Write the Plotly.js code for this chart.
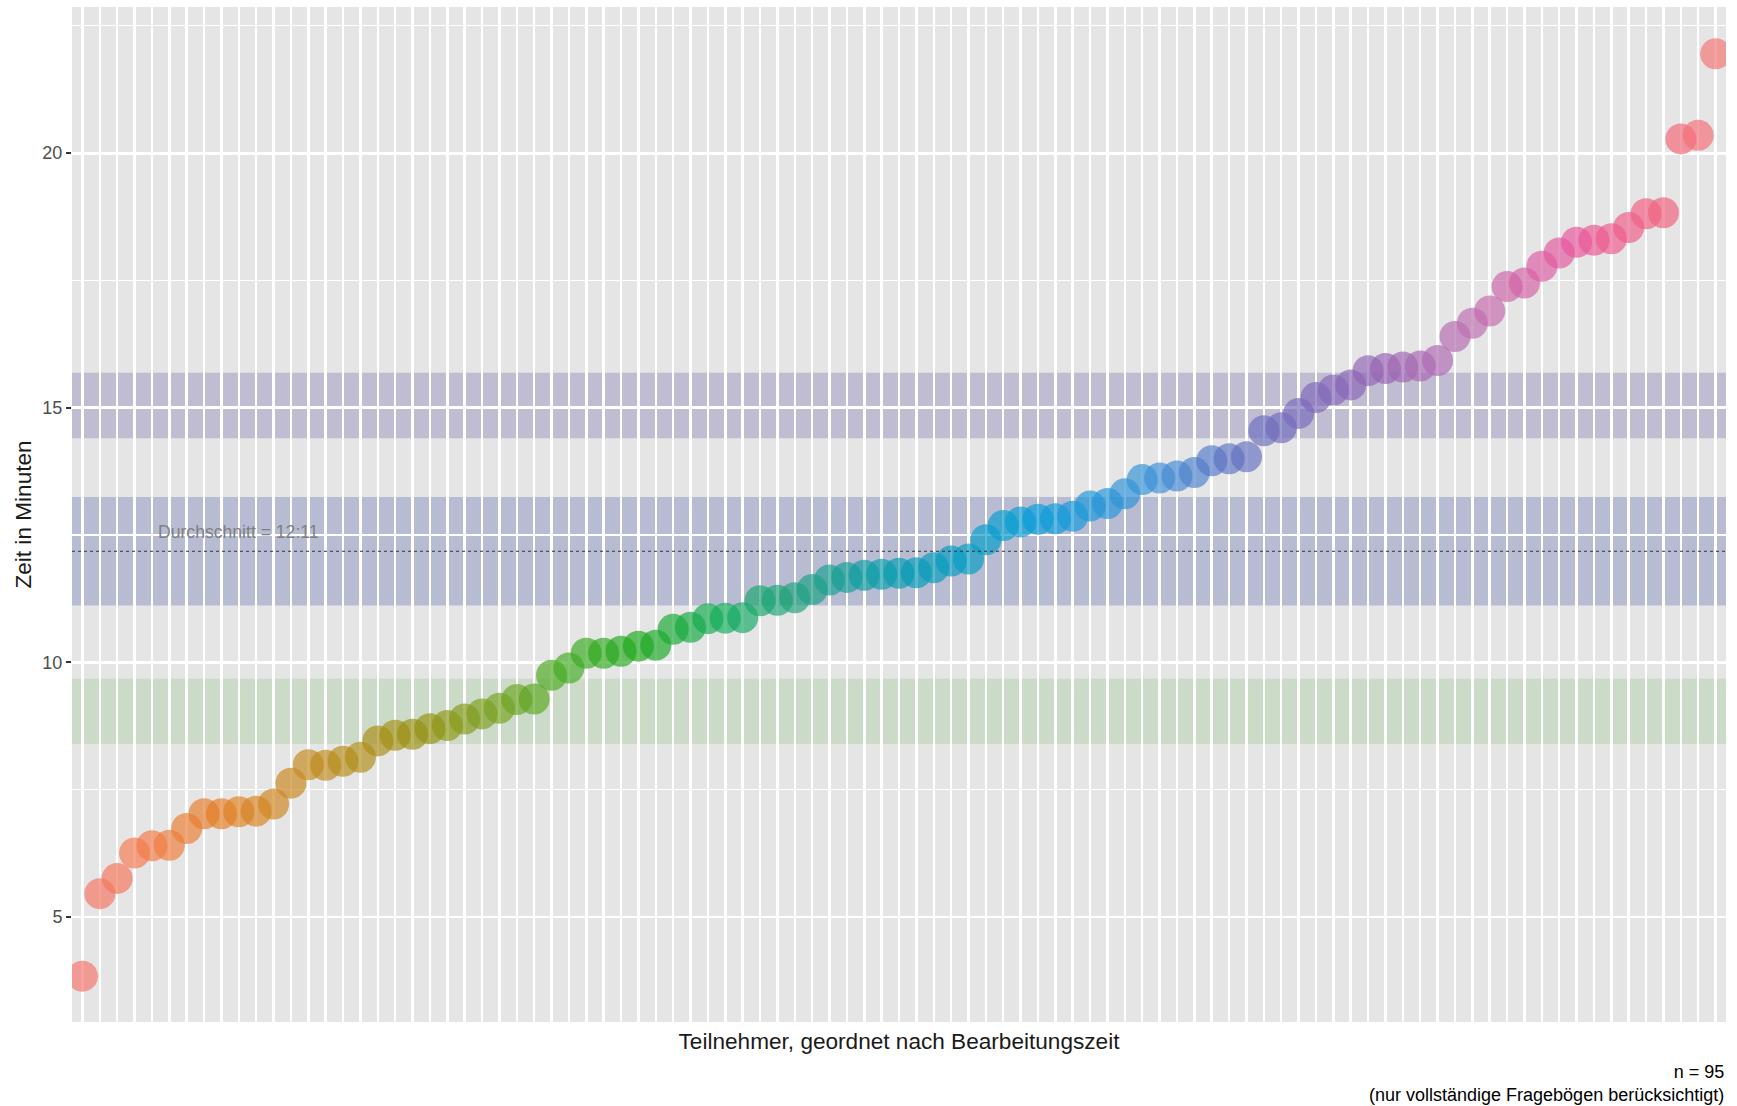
<!DOCTYPE html>
<html>
<head>
<meta charset="utf-8">
<script src="https://cdn.plot.ly/plotly-3.0.1.min.js"></script>
<style>
  html, body { margin: 0; padding: 0; background: #ffffff; }
  #chart { width: 1737px; height: 1106px; }
</style>
</head>
<body>
<div id="chart"></div>
<script>
// ---- data ----
const participants = Array.from({length: 95}, (_, i) => i + 1);
const minutes = [
  3.84, 5.46, 5.76, 6.26, 6.40, 6.41, 6.74, 7.03, 7.03, 7.07,
  7.08, 7.22, 7.63, 7.99, 7.98, 8.06, 8.14, 8.46, 8.57, 8.59,
  8.70, 8.76, 8.89, 8.99, 9.10, 9.27, 9.28, 9.75, 9.89, 10.18,
  10.18, 10.22, 10.32, 10.34, 10.65, 10.69, 10.86, 10.87, 10.88, 11.21,
  11.22, 11.27, 11.43, 11.62, 11.67, 11.71, 11.73, 11.75, 11.76, 11.86,
  11.99, 12.03, 12.41, 12.69, 12.76, 12.81, 12.82, 12.87, 13.07, 13.12,
  13.31, 13.59, 13.62, 13.66, 13.73, 13.96, 14.00, 14.04, 14.55, 14.61,
  14.89, 15.20, 15.35, 15.45, 15.73, 15.77, 15.80, 15.82, 15.93, 16.40,
  16.66, 16.90, 17.38, 17.45, 17.78, 18.04, 18.25, 18.29, 18.32, 18.54,
  18.81, 18.83, 20.28, 20.35, 21.95
];
const meanMinutes = 12.183;
const meanLabel = "Durchschnitt = 12:11";
const bandLower = [8.40, 11.12, 14.40];
const bandUpper = [9.68, 13.25, 15.69];
const yTickVals = [5, 10, 15, 20];
const yTickText = ["5", "10", "15", "20"];
const xTitle = "Teilnehmer, geordnet nach Bearbeitungszeit";
const yTitle = "Zeit in Minuten";
const captionLines = ["n = 95", "(nur vollständige Fragebögen berücksichtigt)"];

// ---- styles ----
const bandColors = ["rgba(133,193,113,0.25)", "rgba(49,69,161,0.25)", "rgba(85,73,161,0.25)"];
const FONT = "Liberation Sans, Arial, Helvetica, sans-serif";

// colour stops of the point palette (position in participant order -> colour)
const paletteStops = [
  [1, [246, 116, 109]], [5, [243, 124, 72]], [9, [228, 126, 36]], [13, [202, 136, 32]],
  [17, [176, 141, 26]], [21, [148, 146, 18]], [25, [120, 162, 36]], [29, [66, 172, 36]],
  [33, [30, 168, 26]], [38, [18, 172, 92]], [42, [34, 162, 126]], [48, [6, 156, 176]],
  [56, [8, 157, 216]], [63, [60, 145, 215]], [67, [95, 116, 195]], [71, [120, 106, 185]],
  [76, [150, 100, 180]], [81, [190, 110, 176]], [87, [233, 86, 155]], [92, [242, 98, 125]],
  [95, [245, 116, 116]]
];
function paletteAt(p) {
  for (let k = 0; k < paletteStops.length - 1; k++) {
    const [p0, c0] = paletteStops[k], [p1, c1] = paletteStops[k + 1];
    if (p >= p0 && p <= p1) {
      const t = (p - p0) / (p1 - p0);
      const c = c0.map((v, j) => Math.round(v + (c1[j] - v) * t));
      return "rgb(" + c.join(",") + ")";
    }
  }
  return "rgb(" + paletteStops[paletteStops.length - 1][1].join(",") + ")";
}
const markerColors = participants.map(p => paletteAt(p));

const trace = {
  type: "scatter",
  mode: "markers",
  x: participants,
  y: minutes,
  marker: { size: 31, color: markerColors, opacity: 0.68, line: { width: 0 } },
  hoverinfo: "x+y",
  showlegend: false
};

const shapes = bandLower.map((lo, k) => ({
  type: "rect", xref: "paper", yref: "y", x0: 0, x1: 1, y0: lo, y1: bandUpper[k],
  fillcolor: bandColors[k], line: { width: 0 }, layer: "between"
}));
shapes.push({
  type: "line", xref: "paper", yref: "y", x0: 0, x1: 1, y0: meanMinutes, y1: meanMinutes,
  line: { color: "#333333", width: 1, dash: "dot" }, layer: "above"
});

const layout = {
  width: 1737, height: 1106,
  margin: { l: 72, r: 11, t: 7, b: 84 },
  paper_bgcolor: "#ffffff",
  plot_bgcolor: "#E5E5E5",
  font: { family: FONT, color: "#000000" },
  xaxis: {
    range: [0.4, 95.6],
    tickvals: participants,
    showticklabels: false,
    ticks: "",
    showgrid: true, gridcolor: "#ffffff", gridwidth: 2.5,
    zeroline: false, showline: false,
    title: { text: xTitle, font: { size: 22.6, color: "#1a1a1a", family: FONT }, standoff: 11 }
  },
  yaxis: {
    range: [2.94, 22.87],
    tickvals: yTickVals, ticktext: yTickText,
    ticks: "outside", ticklen: 5, tickwidth: 2, tickcolor: "#333333",
    tickfont: { size: 18, color: "#4D4D4D", family: FONT },
    showgrid: true, gridcolor: "#ffffff", gridwidth: 2.7,
    minor: { dtick: 2.5, tick0: 0, showgrid: true, gridcolor: "#ffffff", gridwidth: 1.3, ticks: "" },
    zeroline: false, showline: false,
    title: { text: yTitle, font: { size: 22.6, color: "#1a1a1a", family: FONT }, standoff: 4 }
  },
  shapes: shapes,
  annotations: [
    {
      xref: "x", yref: "y", x: 10, y: meanMinutes + 0.37,
      text: meanLabel, showarrow: false,
      font: { size: 17.6, color: "#808080", family: FONT },
      xanchor: "center", yanchor: "middle"
    },
    {
      xref: "paper", yref: "paper", x: 1, y: 0, yshift: -38,
      text: captionLines.join("<br>"), showarrow: false,
      align: "right", xanchor: "right", yanchor: "top",
      font: { size: 18, color: "#000000", family: FONT }
    }
  ]
};

Plotly.newPlot("chart", [trace], layout, { displayModeBar: false, staticPlot: true });
</script>
</body>
</html>
